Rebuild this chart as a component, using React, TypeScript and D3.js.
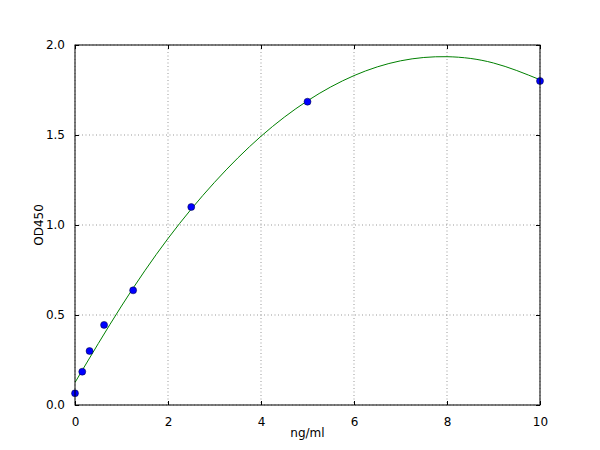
import React, { useEffect, useRef } from 'react';
import * as d3 from 'd3';

// standard concentrations (ng/ml) and measured OD450
const conc = [0, 0.156, 0.3125, 0.625, 1.25, 2.5, 5, 10];
const od = [0.065, 0.185, 0.3, 0.445, 0.637, 1.1, 1.685, 1.8];

// fitted curve
const fitX = [0, 1, 2, 3, 4, 5, 6, 7, 8, 9, 10];
const fitY = [0.125, 0.55, 0.925, 1.237, 1.493, 1.69, 1.83, 1.912, 1.935, 1.9, 1.807];

const xTicks = [0, 2, 4, 6, 8, 10];
const yTicks = [0, 0.5, 1.0, 1.5, 2.0];

const W = 600;
const H = 450;
const font = 'DejaVu Sans, sans-serif';

const App: React.FC = () => {
  const svgRef = useRef<SVGSVGElement>(null);

  useEffect(() => {
    if (!svgRef.current) return;
    const margin = { top: 45, right: 60, bottom: 45, left: 75 };
    const width = W - margin.left - margin.right;
    const height = H - margin.top - margin.bottom;

    const svg = d3.select(svgRef.current);
    svg.selectAll("*").remove();

    svg.append("rect").attr("width", W).attr("height", H).attr("fill", "#fff");

    const g = svg.append("g")
      .attr("transform", `translate(${margin.left},${margin.top})`);

    const x = d3.scaleLinear().domain([0, 10]).range([0, width]);
    const y = d3.scaleLinear().domain([0, 2]).range([height, 0]);

    g.append("defs").append("clipPath").attr("id", "plot-clip")
      .append("rect").attr("width", width).attr("height", height);

    // Grid lines
    g.append("g")
      .selectAll("line")
      .data(xTicks)
      .enter().append("line")
      .attr("x1", d => x(d)).attr("x2", d => x(d))
      .attr("y1", 0).attr("y2", height)
      .attr("stroke", "#555")
      .attr("stroke-width", 0.6)
      .attr("stroke-dasharray", "1,2.5");

    g.append("g")
      .selectAll("line")
      .data(yTicks)
      .enter().append("line")
      .attr("x1", 0).attr("x2", width)
      .attr("y1", d => y(d)).attr("y2", d => y(d))
      .attr("stroke", "#555")
      .attr("stroke-width", 0.6)
      .attr("stroke-dasharray", "1,2.5");

    // Fitted curve
    const line = d3.line<number>()
      .x((d, i) => x(fitX[i]))
      .y(d => y(d))
      .curve(d3.curveNatural);

    g.append("path")
      .datum(fitY)
      .attr("clip-path", "url(#plot-clip)")
      .attr("fill", "none")
      .attr("stroke", "#008000")
      .attr("stroke-width", 1)
      .attr("d", line);

    // Data points
    g.selectAll(".pt")
      .data(conc)
      .enter().append("circle")
      .attr("class", "pt")
      .attr("cx", d => x(d))
      .attr("cy", (d, i) => y(od[i]))
      .attr("r", 3.5)
      .attr("fill", "#0000ff")
      .attr("stroke", "#000033")
      .attr("stroke-width", 0.5);

    // Frame
    g.append("rect")
      .attr("width", width)
      .attr("height", height)
      .attr("fill", "none")
      .attr("stroke", "#000")
      .attr("stroke-width", 1);

    // Axes with inward ticks
    const axisStyle = (sel: d3.Selection<SVGGElement, unknown, null, undefined>) => {
      sel.select(".domain").remove();
      sel.selectAll("text")
        .style("font-family", font)
        .style("font-size", "12px")
        .attr("fill", "#000");
      sel.selectAll(".tick line").attr("stroke", "#000");
    };

    g.append("g")
      .attr("transform", `translate(0,${height})`)
      .call(d3.axisBottom(x).tickValues(xTicks).tickSizeInner(-4).tickSizeOuter(0).tickPadding(12).tickFormat(d3.format("d")))
      .call(axisStyle);

    g.append("g")
      .call(d3.axisTop(x).tickValues(xTicks).tickSizeInner(-4).tickSizeOuter(0).tickFormat(() => ""))
      .call(axisStyle);

    g.append("g")
      .call(d3.axisLeft(y).tickValues(yTicks).tickSizeInner(-4).tickSizeOuter(0).tickPadding(10).tickFormat(d3.format(".1f")))
      .call(axisStyle);

    g.append("g")
      .attr("transform", `translate(${width},0)`)
      .call(d3.axisRight(y).tickValues(yTicks).tickSizeInner(-4).tickSizeOuter(0).tickFormat(() => ""))
      .call(axisStyle);

    // Axis labels
    svg.append("text")
      .attr("x", margin.left + width / 2)
      .attr("y", 437)
      .attr("text-anchor", "middle")
      .style("font-family", font)
      .style("font-size", "12px")
      .text("ng/ml");

    svg.append("text")
      .attr("transform", `translate(43,${margin.top + height / 2}) rotate(-90)`)
      .attr("text-anchor", "middle")
      .style("font-family", font)
      .style("font-size", "12px")
      .text("OD450");
  }, []);

  return (
    <svg ref={svgRef} width={W} height={H}
      style={{ position: 'absolute', left: 0, top: 0, display: 'block' }} />
  );
};

export default App;
